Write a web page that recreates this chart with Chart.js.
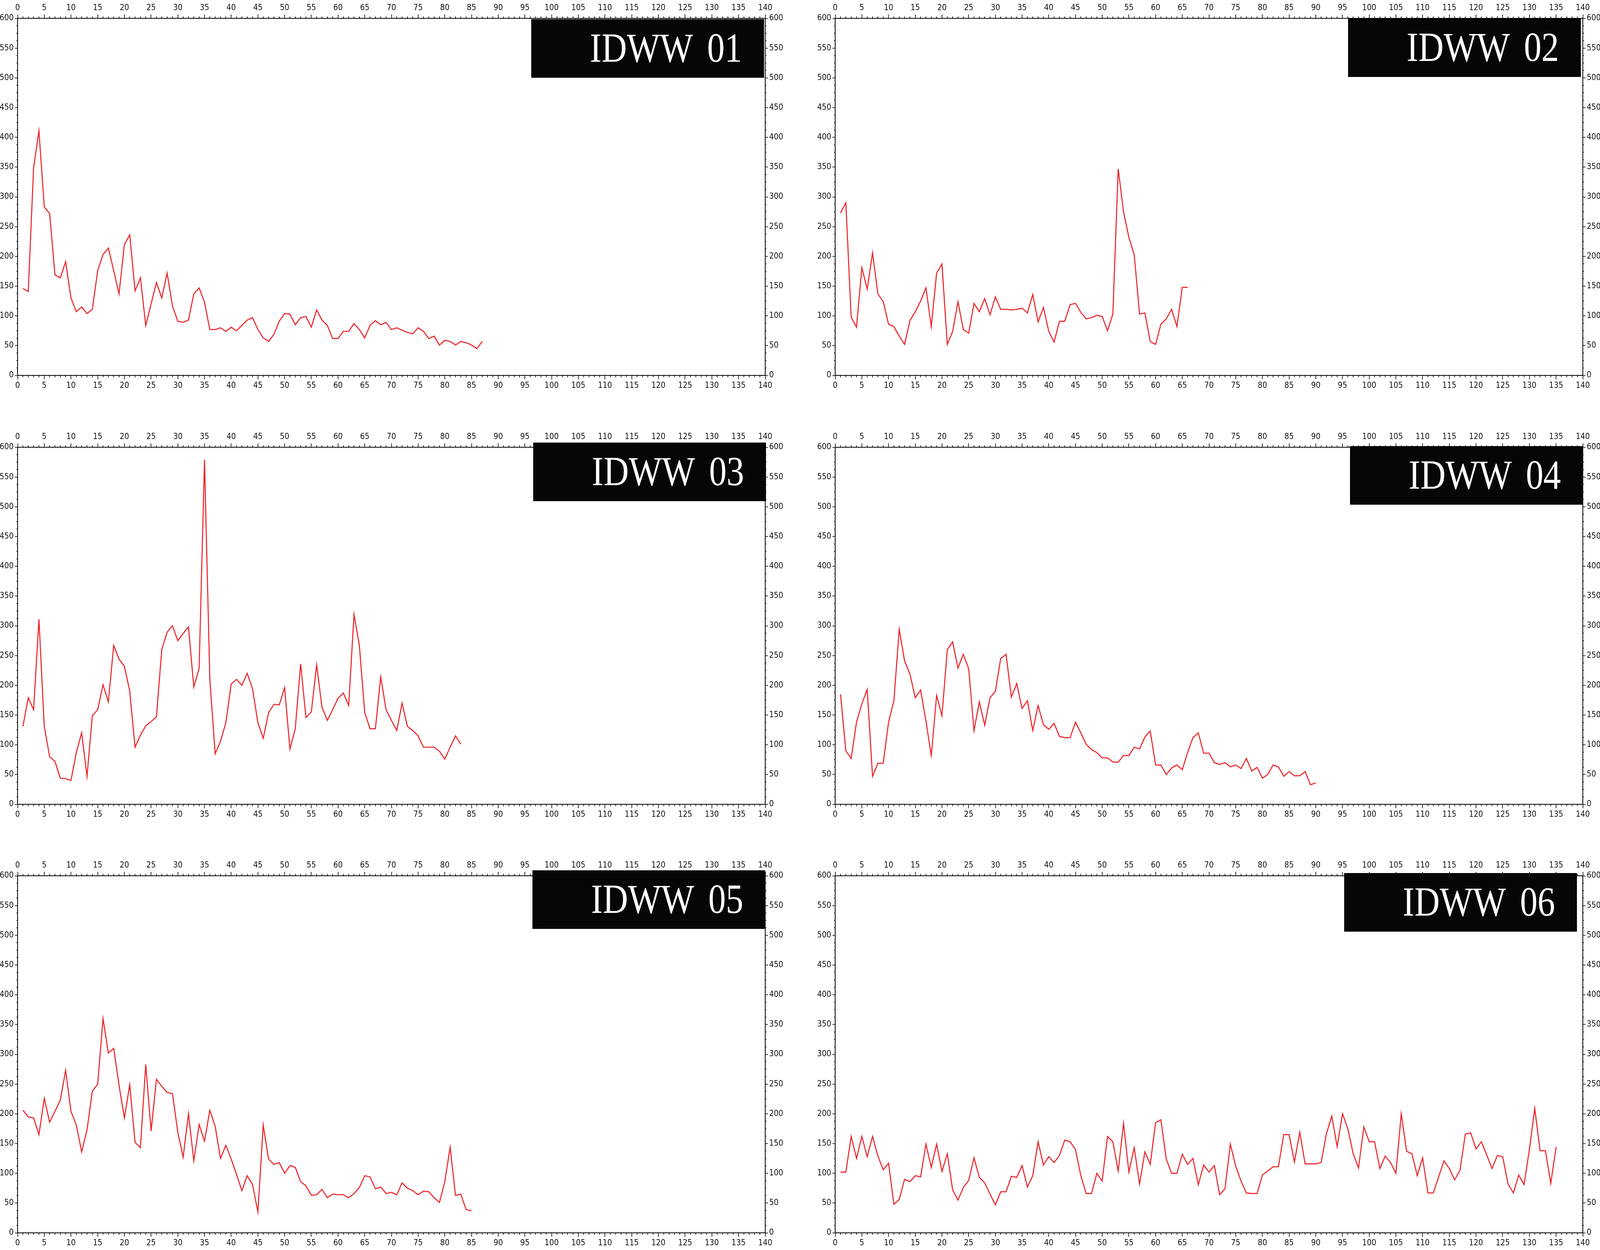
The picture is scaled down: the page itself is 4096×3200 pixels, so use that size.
<!DOCTYPE html>
<html>
<head>
<meta charset="utf-8">
<script src="https://cdn.jsdelivr.net/npm/chart.js@4.4.1/dist/chart.umd.min.js"></script>
<style>
html,body{margin:0;padding:0;background:#fff;}
body{width:4096px;height:3200px;position:relative;overflow:hidden;}
canvas{position:absolute;}
</style>
</head>
<body>
<script>
// axis ranges / tick steps
const xRange = [0, 140], xStep = 5, xMinorStep = 1;
const yRange = [0, 600], yStep = 50, yMinorStep = 12.5;

const names = ['IDWW 01','IDWW 02','IDWW 03','IDWW 04','IDWW 05','IDWW 06'];

// series values, first value sits at x = 1
const idww01 = [146,141,349,411,283,272,169,164,191,130,107,115,104,111,176,203,214,176,137,220,
  236,142,164,84,120,156,130,172,117,91,89,93,137,147,123,77,77,80,74,81,
  75,84,93,97,77,63,57,69,91,104,103,85,97,99,81,110,93,84,62,62,
  74,74,87,77,63,84,92,85,89,77,80,76,72,70,80,74,62,66,51,59,
  57,51,57,55,51,45,57];
const idww02 = [273,290,98,81,181,145,206,137,124,86,82,66,52,92,107,125,147,82,172,187,
  52,74,124,77,71,121,107,129,102,132,111,111,110,111,113,105,136,90,114,74,
  56,91,91,119,121,106,95,97,101,99,75,103,347,275,232,203,103,105,57,52,
  86,95,111,82,148,148];
const idww03 = [131,179,159,311,131,80,72,44,43,40,87,120,47,149,159,201,172,267,244,232,
  190,96,116,132,139,147,260,289,300,275,287,298,197,229,579,210,85,106,137,202,
  210,200,220,194,137,111,154,168,167,196,93,127,236,146,155,234,163,141,159,178,
  187,166,319,267,154,127,127,214,159,141,124,170,131,124,115,96,96,96,89,76,
  96,115,101];
const idww04 = [185,90,77,138,169,193,47,69,69,138,174,294,241,219,179,192,140,82,183,149,
  260,273,229,252,228,124,172,133,179,190,245,252,180,203,161,174,124,166,134,126,
  136,114,112,112,138,120,101,92,87,78,78,71,71,82,82,96,93,113,123,66,
  66,50,61,66,58,87,112,120,86,86,70,67,70,63,66,60,77,56,62,44,
  50,66,63,47,55,48,48,55,33,36];
const idww05 = [206,195,193,165,226,186,204,223,273,204,181,136,173,238,250,360,302,310,248,193,
  249,152,143,283,171,258,246,236,234,169,127,200,121,182,154,206,179,125,147,124,
  98,71,96,81,35,181,124,115,118,100,113,110,86,79,63,64,73,59,65,64,
  64,59,66,76,96,94,74,77,66,68,64,84,75,71,64,70,69,59,51,86,
  144,63,65,39,37];
const idww06 = [102,102,162,125,162,128,162,129,106,117,48,56,90,86,96,94,149,110,149,103,
  133,72,55,76,88,126,93,84,65,47,69,69,95,93,113,77,96,153,114,128,
  118,130,156,153,140,96,66,66,100,87,162,153,104,184,102,143,82,136,115,185,
  190,124,100,100,132,115,125,81,114,102,113,64,74,149,112,87,67,66,66,97,
  104,111,111,165,165,119,169,116,116,116,118,167,196,145,200,175,133,109,178,153,
  153,108,129,118,100,200,137,133,96,126,67,67,94,121,108,89,105,166,168,141,
  153,131,108,130,128,82,67,97,81,140,209,138,138,83,144];

const series = [idww01, idww02, idww03, idww04, idww05, idww06];

// layout (px in the 4096x3200 window)
const PLOT_W = 1914, PLOT_H = 914, M = 46;
const colLeft = [45, 2138], rowTop = [47, 1145, 2242];
const boxShift = [[-3,2],[-5,0],[2,-12],[0,-3],[0,-14],[-15,-7]];
const BOX_W = 596, BOX_H = 150;

const tickFont = {family:'"Liberation Sans Narrow","Arial Narrow","DejaVu Sans Condensed",sans-serif', size:21};
const tickColor = '#111';

function axis(position, isX){
  const r = isX ? xRange : yRange;
  return {
    type:'linear', position, min:r[0], max:r[1],
    afterFit(s){ if(isX) s.height = M; else s.width = M; },
    ticks:{ stepSize: isX ? xStep : yStep, autoSkip:false, maxRotation:0, font:tickFont, color:tickColor,
            padding: isX ? 4 : 3, callback:v => String(v) },
    grid:{ drawOnChartArea:false, tickLength: isX ? 10 : 7, tickWidth:1.6, tickColor:'#000' },
    border:{ color:'#000', width:2 }
  };
}

const frame = {
  id:'frame',
  afterDraw(chart, args, opts){
    const ctx = chart.ctx, a = chart.chartArea;
    ctx.save();
    ctx.strokeStyle = '#000';
    ctx.lineWidth = 1.6;
    ctx.beginPath();
    for(const id of ['x','xTop']){
      const s = chart.scales[id];
      const edge = id === 'x' ? a.bottom : a.top, dir = id === 'x' ? 1 : -1;
      for(let v = xRange[0]; v <= xRange[1]; v += xMinorStep){
        if(v % xStep === 0) continue;
        const p = s.getPixelForValue(v);
        ctx.moveTo(p, edge); ctx.lineTo(p, edge + dir*5);
      }
    }
    for(const id of ['y','yRight']){
      const s = chart.scales[id];
      const edge = id === 'y' ? a.left : a.right, dir = id === 'y' ? -1 : 1;
      for(let v = yRange[0]; v <= yRange[1]; v += yMinorStep){
        if(v % yStep === 0) continue;
        const p = s.getPixelForValue(v);
        ctx.moveTo(edge, p); ctx.lineTo(edge + dir*3, p);
      }
    }
    ctx.stroke();

    // name box
    const bx = a.right + opts.dx - BOX_W, by = a.top + opts.dy;
    ctx.fillStyle = '#050608';
    ctx.fillRect(bx, by, BOX_W, BOX_H);
    ctx.fillStyle = '#fff';
    ctx.font = '105px "Liberation Serif","Times New Roman",serif';
    ctx.textAlign = 'left';
    ctx.textBaseline = 'alphabetic';
    if('wordSpacing' in ctx) ctx.wordSpacing = '16px';
    ctx.fillText(opts.text, bx + 150, by + BOX_H - 41, 390);
    ctx.restore();
  }
};

series.forEach((vals, i) => {
  const col = i % 2, row = Math.floor(i / 2);
  const cv = document.createElement('canvas');
  cv.width = PLOT_W + 2*M; cv.height = PLOT_H + 2*M;
  cv.style.left = (colLeft[col] - M) + 'px';
  cv.style.top = (rowTop[row] - M) + 'px';
  document.body.appendChild(cv);

  new Chart(cv, {
    type:'line',
    data:{ datasets:[{
      data: vals.map((v, k) => ({x:k + 1, y:v})),
      borderColor:'#ee2329', borderWidth:2.7, pointRadius:0, tension:0, fill:false
    }]},
    options:{
      responsive:false, animation:false, devicePixelRatio:1, events:[],
      layout:{ padding:0 },
      plugins:{ legend:{display:false}, tooltip:{enabled:false},
        frame:{ text:names[i], dx:boxShift[i][0], dy:boxShift[i][1] } },
      scales:{
        x: axis('bottom', true),
        xTop: axis('top', true),
        y: axis('left', false),
        yRight: axis('right', false)
      }
    },
    plugins:[frame]
  });
});
</script>
</body>
</html>
